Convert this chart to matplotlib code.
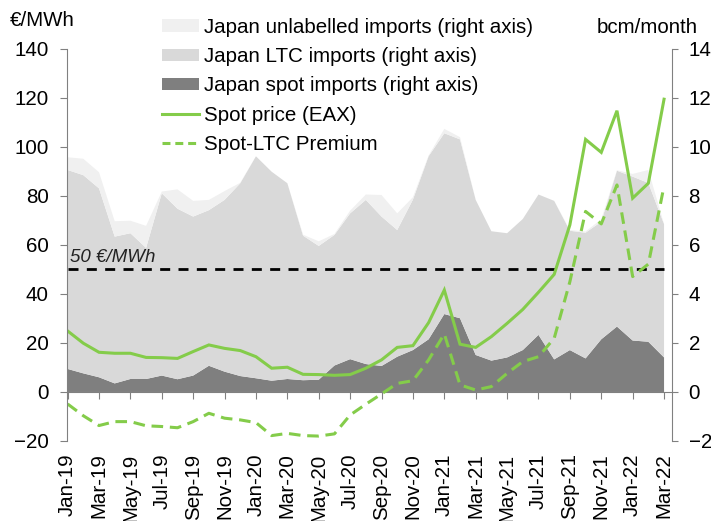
import numpy as np
import matplotlib
matplotlib.use("Agg")
import matplotlib.pyplot as plt
from matplotlib.patches import Patch
from matplotlib.lines import Line2D

plt.rcParams['font.family'] = ['Liberation Sans', 'DejaVu Sans']

months = ['Jan-19', 'Feb-19', 'Mar-19', 'Apr-19', 'May-19', 'Jun-19', 'Jul-19', 'Aug-19',
          'Sep-19', 'Oct-19', 'Nov-19', 'Dec-19', 'Jan-20', 'Feb-20', 'Mar-20', 'Apr-20',
          'May-20', 'Jun-20', 'Jul-20', 'Aug-20', 'Sep-20', 'Oct-20', 'Nov-20', 'Dec-20',
          'Jan-21', 'Feb-21', 'Mar-21', 'Apr-21', 'May-21', 'Jun-21', 'Jul-21', 'Aug-21',
          'Sep-21', 'Oct-21', 'Nov-21', 'Dec-21', 'Jan-22', 'Feb-22', 'Mar-22']

# bcm/month (right axis)
spot_imports = [0.94, 0.76, 0.60, 0.35, 0.53, 0.53, 0.67, 0.52, 0.67, 1.07, 0.83, 0.65,
                0.56, 0.46, 0.53, 0.48, 0.50, 1.08, 1.34, 1.14, 1.06, 1.44, 1.71, 2.15,
                3.18, 3.01, 1.51, 1.28, 1.41, 1.71, 2.33, 1.33, 1.71, 1.37, 2.15, 2.67,
                2.10, 2.05, 1.41]
ltc_imports = [8.12, 8.09, 7.71, 5.99, 5.95, 5.35, 7.44, 6.96, 6.49, 6.35, 7.01, 7.87,
               9.06, 8.53, 7.99, 5.90, 5.46, 5.33, 5.95, 6.70, 6.10, 5.17, 6.14, 7.47,
               7.38, 7.30, 6.33, 5.28, 5.07, 5.35, 5.73, 6.47, 4.87, 5.13, 4.80, 6.36,
               6.69, 6.48, 5.44]
unlabelled_imports = [0.52, 0.67, 0.66, 0.63, 0.51, 0.90, 0.07, 0.79, 0.64, 0.42, 0.36, 0.02,
                      0.00, 0.00, 0.00, 0.04, 0.19, 0.04, 0.11, 0.22, 0.88, 0.68, 0.10, 0.03,
                      0.18, 0.09, 0.00, 0.00, 0.00, 0.00, 0.00, 0.00, 0.03, 0.05, 0.10, 0.02,
                      0.11, 0.53, 0.00]

# EUR/MWh (left axis)
spot_price = [24.9, 19.9, 16.2, 15.8, 15.8, 14.1, 14.0, 13.7, 16.5, 19.2, 17.8, 16.9,
              14.4, 9.7, 10.1, 7.2, 7.1, 6.8, 7.1, 9.7, 13.1, 18.2, 18.9, 28.3,
              41.6, 19.5, 18.2, 22.6, 28.0, 33.7, 40.7, 48.0, 68.2, 103.1, 97.8, 114.8,
              79.1, 85.2, 119.5]
premium = [-4.9, -9.7, -13.7, -12.1, -12.1, -13.8, -14.1, -14.6, -12.1, -8.7, -10.7, -11.4,
           -12.5, -17.8, -16.9, -17.8, -18.0, -17.1, -9.4, -5.0, -0.8, 3.5, 4.6, 13.1,
           23.7, 2.9, 0.8, 2.2, 7.6, 12.4, 14.4, 21.9, 45.0, 73.7, 68.6, 84.5,
           47.1, 52.2, 84.1]
threshold = 50

left_ticks = [-20, 0, 20, 40, 60, 80, 100, 120, 140]
right_ticks = [-2, 0, 2, 4, 6, 8, 10, 12, 14]

c_unl = '#f0f0f0'
c_ltc = '#d9d9d9'
c_spot = '#7f7f7f'
c_green = '#84cc4a'
c_axis = '#808080'
fs = 14.8

x = np.arange(len(months))

fig = plt.figure(figsize=(7.11, 5.21), dpi=100)
ax = fig.add_axes([0.094, 0.1536, 0.851, 0.7524])
ax2 = ax.twinx()
ax.set_zorder(ax2.get_zorder() + 1)
ax.patch.set_visible(False)

ax2.stackplot(x, spot_imports, ltc_imports, unlabelled_imports,
              colors=[c_spot, c_ltc, c_unl], linewidth=0)
ax2.set_ylim(-2, 14)
ax2.set_yticks(right_ticks)

ax.hlines(threshold, x[0], x[-1], colors='black', linestyles=(0, (3.6, 3.0)), linewidth=2.0)
ax.text(x[0] + 0.15, threshold + 1.5, '50 €/MWh', fontsize=fs - 1.3, style='italic',
        ha='left', va='bottom', color='#222222')
ax.plot(x, spot_price, color=c_green, linewidth=2.2, solid_joinstyle='miter')
ax.plot(x, premium, color=c_green, linewidth=2.2, dashes=(3.8, 2.2))

ax.set_ylim(-20, 140)
ax.set_yticks(left_ticks)
ax.set_xlim(-0.05, 38.5)

for a in (ax, ax2):
    a.spines['top'].set_visible(False)
    a.spines['bottom'].set_visible(False)
    a.spines['left'].set_color(c_axis)
    a.spines['right'].set_color(c_axis)
ax.spines['right'].set_visible(False)
ax2.spines['left'].set_visible(False)

ax.tick_params(axis='y', direction='out', length=5, color=c_axis, labelsize=fs, pad=8)
ax2.tick_params(axis='y', direction='out', length=4, color=c_axis, labelsize=fs, pad=8)
ax.set_xticks(x[::2])
ax.set_xticklabels(months[::2], rotation=90, fontsize=fs)
ax.tick_params(axis='x', length=0, pad=9)

zero_frac = (0 - (-20)) / (140 - (-20))
sec = ax.secondary_xaxis(zero_frac)
sec.set_xticks(x[::2])
sec.set_xticklabels([])
sec.tick_params(axis='x', direction='out', length=5, color=c_axis)
sec.spines['bottom'].set_color(c_axis)

fig.text(0.014, 0.960, '€/MWh', fontsize=fs, ha='left', va='center')
fig.text(0.982, 0.947, 'bcm/month', fontsize=fs, ha='right', va='center')

handles = [Patch(facecolor=c_unl, edgecolor='none'),
           Patch(facecolor=c_ltc, edgecolor='none'),
           Patch(facecolor=c_spot, edgecolor='none'),
           Line2D([], [], color=c_green, linewidth=2.2),
           Line2D([], [], color=c_green, linewidth=2.2, dashes=(2.6, 1.6))]
labels = ['Japan unlabelled imports (right axis)', 'Japan LTC imports (right axis)',
          'Japan spot imports (right axis)', 'Spot price (EAX)', 'Spot-LTC Premium']
fig.legend(handles, labels, loc='upper left', bbox_to_anchor=(0.228, 0.966),
           frameon=False, fontsize=fs, handlelength=1.8, handletextpad=0.25,
           labelspacing=0.5, borderpad=0, borderaxespad=0, handleheight=0.55)

fig.savefig('out.png', dpi=100)
